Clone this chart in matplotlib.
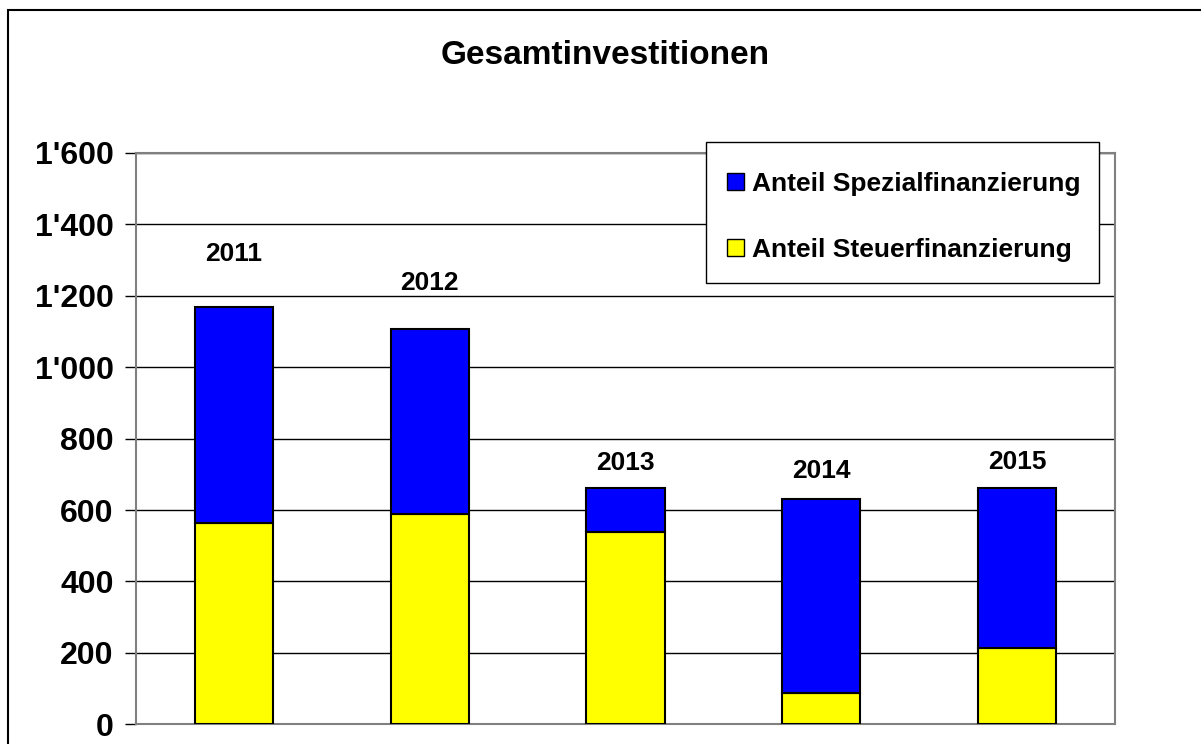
import matplotlib
matplotlib.use("Agg")
import matplotlib.pyplot as plt
from matplotlib.patches import Patch, Rectangle
from matplotlib.ticker import FuncFormatter

# Gesamtinvestitionen, Anteile je Jahr
years = ["2011", "2012", "2013", "2014", "2015"]
steuer = [563, 588, 539, 89, 213]      # Anteil Steuerfinanzierung
spezial = [607, 520, 122, 543, 448]    # Anteil Spezialfinanzierung
label_y = [1317, 1236, 732, 709, 734]  # Hoehe der Jahresbeschriftung

plt.rcParams["font.family"] = ["Liberation Sans", "DejaVu Sans"]
plt.rcParams["font.weight"] = "bold"

blue = "#0000FF"
yellow = "#FFFF00"
grey = "#808080"

fig = plt.figure(figsize=(12.01, 7.44), dpi=100)
ax = fig.add_axes([136 / 1201, 1 - 724.3 / 744, 979 / 1201, 571.3 / 744])

x = list(range(len(years)))
ax.bar(x, steuer, width=0.4, color=yellow, edgecolor="black", linewidth=1.5, zorder=3)
ax.bar(x, spezial, bottom=steuer, width=0.4, color=blue, edgecolor="black", linewidth=1.5, zorder=3)

for i, y in enumerate(label_y):
    ax.text(i, y, years[i], ha="center", va="center", fontsize=19, fontweight="bold")

ax.set_xlim(-0.5, 4.5)
ax.set_ylim(0, 1600)
ax.set_xticks([])
ax.set_yticks(range(0, 1601, 200))
ax.yaxis.set_major_formatter(FuncFormatter(lambda v, p: f"{int(v):,}".replace(",", "'")))
ax.tick_params(axis="y", direction="out", length=8, width=1, color="black",
               pad=8, labelsize=23)
for lab in ax.get_yticklabels():
    lab.set_fontweight("bold")
ax.yaxis.grid(True, color="black", linewidth=1)
ax.set_axisbelow(True)
for spine in ax.spines.values():
    spine.set_color(grey)
    spine.set_linewidth(1.5)

fig.text(605.5 / 1201, 1 - 56 / 744, "Gesamtinvestitionen", ha="center", va="center",
         fontsize=24, fontweight="bold")

# Legendenrahmen
fig.add_artist(Rectangle((706 / 1201, 1 - 283 / 744), 393 / 1201, 141 / 744,
                         transform=fig.transFigure, facecolor="white",
                         edgecolor="black", linewidth=1, zorder=2))

handles = [Patch(facecolor=blue, edgecolor="black", linewidth=1),
           Patch(facecolor=yellow, edgecolor="black", linewidth=1)]
leg = fig.legend(handles, ["Anteil Spezialfinanzierung", "Anteil Steuerfinanzierung"],
                 loc="upper left", bbox_to_anchor=(706 / 1201, 1 - 151 / 744),
                 bbox_transform=fig.transFigure, borderaxespad=0, fontsize=19,
                 handlelength=0.64, handleheight=0.62, handletextpad=0.3,
                 borderpad=0.8, labelspacing=1.59, frameon=False)
leg.set_zorder(3)
for t in leg.get_texts():
    t.set_fontweight("bold")

# Rahmen um die Grafik
fig.add_artist(Rectangle((8 / 1201, -1), 2, 2 - 10 / 744, transform=fig.transFigure,
                         fill=False, edgecolor="black", linewidth=1.5))

fig.savefig("out.png", dpi=100)
